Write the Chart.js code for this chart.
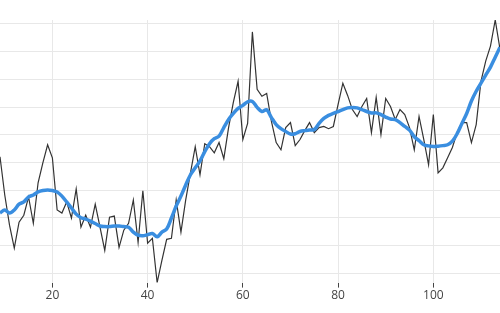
<!DOCTYPE html>
<html>
<head>
<meta charset="utf-8">
<script src="https://cdn.jsdelivr.net/npm/chart.js@4"></script>
<style>
html,body{margin:0;padding:0;background:#fff;}
#wrap{width:500px;height:313px;}
</style>
</head>
<body>
<div id="wrap"><canvas id="c" width="500" height="313"></canvas></div>
<script>
const xValues = [];
for (let i = 9; i <= 114; i++) xValues.push(i);

const rawValues = [
  42.1, 28.3, 17.4, 9.1, 18.5, 21.0, 27.6, 18.1, 32.7, 39.9,
  46.4, 41.7, 22.9, 21.8, 25.8, 20.0, 30.5, 16.7, 21.0, 16.7,
  25.0, 16.7, 8.3, 20.3, 20.7, 9.4, 15.6, 18.1, 26.5, 11.2,
  29.8, 10.9, 12.7, -3.3, 4.7, 12.3, 12.7, 26.5, 14.9, 26.5,
  36.3, 45.7, 35.6, 46.8, 45.7, 43.5, 47.2, 41.4, 52.6, 61.7,
  69.3, 48.3, 54.1, 87.1, 66.4, 63.9, 64.9, 54.8, 47.2, 44.6,
  52.6, 54.4, 46.1, 48.3, 51.5, 54.4, 50.8, 52.6, 53.0, 52.2,
  53.0, 61.0, 68.6, 64.2, 59.1, 56.6, 60.2, 63.1, 50.8, 63.5,
  50.1, 63.1, 60.2, 55.5, 59.1, 57.3, 52.6, 44.6, 56.6, 48.3,
  39.2, 57.3, 36.3, 38.1, 41.7, 45.4, 50.8, 54.4, 54.4, 47.2,
  53.7, 69.3, 76.6, 82.0, 91.4, 80.9
];

const smoothValues = [
  21.8, 22.9, 21.8, 22.9, 25.0, 25.8, 27.6, 28.3, 29.4, 29.9,
  30.1, 29.9, 29.4, 27.9, 25.8, 23.6, 21.4, 20.1, 19.6, 18.9,
  18.0, 17.1, 16.9, 16.9, 17.1, 17.1, 16.9, 16.7, 14.9, 13.8,
  13.6, 14.0, 14.4, 13.2, 14.9, 16.0, 20.0, 24.3, 27.9, 31.9,
  35.6, 38.1, 40.6, 43.9, 46.8, 48.6, 49.5, 52.6, 55.5, 57.7,
  59.5, 60.6, 61.9, 62.0, 59.9, 58.4, 59.0, 56.2, 53.7, 52.2,
  51.2, 50.3, 50.4, 51.2, 51.5, 51.7, 51.9, 54.1, 55.9, 57.0,
  57.7, 58.4, 59.1, 59.7, 59.8, 59.7, 59.1, 58.4, 57.9, 57.9,
  57.3, 56.4, 55.7, 55.5, 54.4, 53.0, 51.7, 49.3, 47.9, 46.4,
  46.0, 45.8, 45.9, 46.1, 46.4, 47.7, 50.4, 54.1, 57.7, 62.2,
  65.7, 68.6, 71.5, 74.4, 78.0, 81.6
];

const xTickValues = [20, 40, 60, 80, 100];
const yGridValues = [0, 10, 20, 30, 40, 50, 60, 70, 80, 90];

const rawPoints = xValues.map((x, i) => ({x: x, y: rawValues[i]}));
const smoothPoints = xValues.map((x, i) => ({x: x, y: smoothValues[i]}));

const allY = rawValues.concat(smoothValues);

new Chart(document.getElementById('c'), {
  type: 'line',
  data: {
    datasets: [
      {
        data: smoothPoints,
        borderColor: '#3a8ee0',
        borderWidth: 3.5,
        pointRadius: 0,
        tension: 0.35,
        fill: false,
        order: 0
      },
      {
        data: rawPoints,
        borderColor: '#333333',
        borderWidth: 1.2,
        pointRadius: 0,
        tension: 0,
        fill: false,
        order: 1
      }
    ]
  },
  options: {
    responsive: false,
    animation: false,
    devicePixelRatio: 1,
    layout: { padding: { top: 20, bottom: 9, left: 0, right: 0 } },
    plugins: { legend: { display: false }, tooltip: { enabled: false } },
    scales: {
      x: {
        type: 'linear',
        min: Math.min(...xValues),
        max: Math.max(...xValues),
        afterBuildTicks: (s) => { s.ticks = xTickValues.map(v => ({value: v})); },
        border: { display: false },
        grid: { color: '#e8e8e8', lineWidth: 1, drawTicks: true, tickLength: 5, tickColor: '#444', tickWidth: 1 },
        ticks: { color: '#444', font: { family: 'Open Sans', size: 12 }, padding: 1, maxRotation: 0, autoSkip: false }
      },
      y: {
        type: 'linear',
        min: Math.min(...allY),
        max: Math.max(...allY),
        afterBuildTicks: (s) => { s.ticks = yGridValues.map(v => ({value: v})); },
        border: { display: false },
        grid: { color: '#e8e8e8', lineWidth: 1, drawTicks: false },
        ticks: { display: false }
      }
    }
  }
});
</script>
</body>
</html>
